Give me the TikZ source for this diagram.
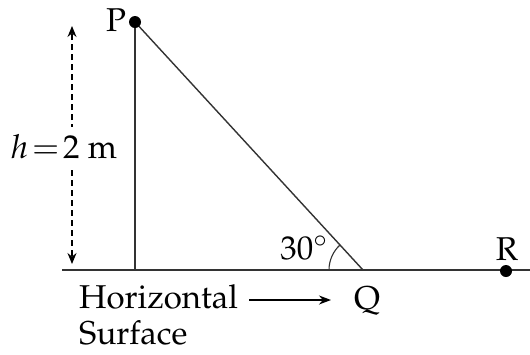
\documentclass[tikz,border=0pt]{standalone}
\usepackage[T1]{fontenc}
\usepackage{mathpazo}
\usetikzlibrary{arrows.meta,calc}
\begin{document}
\begin{tikzpicture}[x=1pt,y=-1pt,
  lbl/.style={inner sep=0pt,font=\fontsize{33}{39}\selectfont},
  ln/.style={line width=1.4pt,black!80},
  dotp/.style={circle,fill=black,inner sep=0pt,minimum size=12pt}]
\useasboundingbox (0,0) rectangle (530,354);
\coordinate (P) at (135,22);
\coordinate (B) at (135,270);
\coordinate (Q) at (363,270);
\coordinate (G0) at (62,270);
\coordinate (G1) at (530,270);
\coordinate (R) at (506,271);
\draw[ln] (G0) -- (G1);
\draw[ln] (P) -- (B);
\draw[ln] (P) -- (Q);
\draw[line width=1.1pt,black!80] ($(Q)+(180:34)$) arc[start angle=180,end angle=227.4,radius=34];
\node[dotp] (Pd) at (P) {};
\node[dotp] (Rd) at (R) {};
\node[lbl] (Pl) at (116,20) {P};
\node[lbl] (Rl) at (507,249) {R};
\node[lbl] (Ql) at (367,301) {Q};
\node[lbl] (ang) at (304,248) {30$^{\circ}$};
\coordinate (Ht) at (72,26);
\coordinate (Hb) at (72,264);
\coordinate (Hm) at (72,150);
\draw[line width=1.3pt,dash pattern=on 6pt off 4pt,-{Stealth[length=11pt,width=9pt]}] (Hm) -- (Ht);
\draw[line width=1.3pt,dash pattern=on 6pt off 4pt,-{Stealth[length=11pt,width=9pt]}] (Hm) -- (Hb);
\node[lbl,fill=white,inner xsep=2pt,inner ysep=8pt] (hl) at (64,147) {$h\!=\!2$ m};
\node[lbl,anchor=west] (hor) at (79,297) {Horizontal};
\node[lbl,anchor=west] (sur) at (79,333) {Surface};
\coordinate (As) at (249,300);
\coordinate (Ae) at (331,300);
\draw[line width=1.3pt,-{Stealth[length=12pt,width=9pt]}] (As) -- (Ae);
\end{tikzpicture}
\end{document}
